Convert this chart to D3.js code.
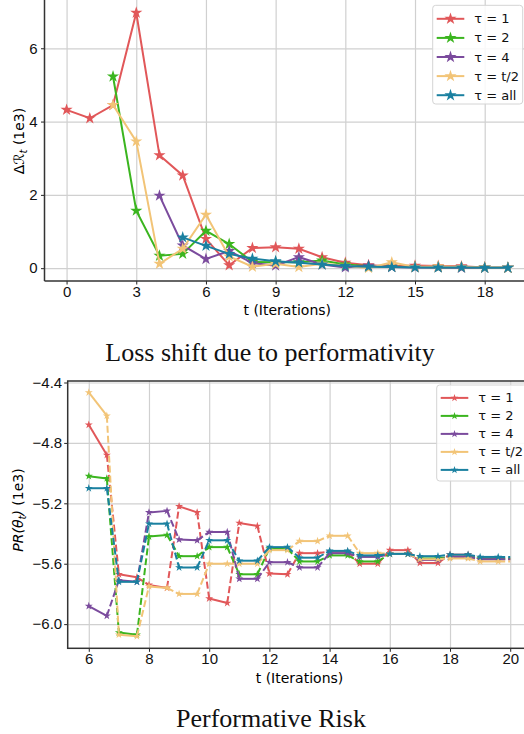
<!DOCTYPE html>
<html>
<head>
<meta charset="utf-8">
<script src="https://cdn.jsdelivr.net/npm/d3@7"></script>
<style>
  body { margin: 0; background: #fff; }
  svg { display: block; font-family: "DejaVu Sans", sans-serif; }
  .grid line { stroke: #d0d0d0; stroke-width: 1.2; }
  .grid path { display: none; }
  .axis text { font-size: 15px; fill: #111; }
  .axis line { stroke: #222; }
  .axis path { stroke: none; }
  .caption { font-family: "Liberation Serif", "Times New Roman", serif; font-size: 26px; fill: #111; }
</style>
</head>
<body>
<div id="chart"></div>
<script>
// series labels
var seriesNames = ["τ = 1", "τ = 2", "τ = 4", "τ = t/2", "τ = all"];
var colors = ["#e15759", "#3bb51f", "#7b4b9d", "#f2c477", "#1a80a0"];

// top chart: loss shift (1e3), each series starts at a given iteration
var shiftStart = [0, 2, 4, 2, 5];
var shiftTau1 = [4.32, 4.09, 4.45, 6.97, 3.08, 2.53, 0.80, 0.08, 0.55, 0.57, 0.53, 0.30, 0.15, 0.08, 0.05, 0.07, 0.06, 0.05, 0.02, 0.01];
var shiftTau2 = [5.23, 1.57, 0.34, 0.39, 1.02, 0.66, 0.17, 0.16, 0.16, 0.21, 0.10, 0.05, 0.04, 0.03, 0.02, 0.02, 0.01, 0.01];
var shiftTau4 = [1.98, 0.62, 0.25, 0.47, 0.14, 0.07, 0.30, 0.10, 0.02, 0.07, 0.03, 0.02, 0.02, 0.01, 0.01, 0.01];
var shiftTauHalf = [4.45, 3.46, 0.12, 0.53, 1.46, 0.32, 0.04, 0.12, 0.03, 0.12, 0.07, 0.00, 0.16, 0.03, 0.05, 0.03, 0.02, 0.01];
var shiftTauAll = [0.84, 0.61, 0.39, 0.26, 0.19, 0.15, 0.10, 0.06, 0.04, 0.03, 0.02, 0.02, 0.02, 0.01, 0.01];
var shiftTicks = [0, 3, 6, 9, 12, 15, 18];
var shiftYTicks = [0, 2, 4, 6];

// bottom chart: performative risk (1e3) at t and t+0.6
var prT = [6, 7, 8, 9, 10, 11, 12, 13, 14, 15, 16, 17, 18, 19, 20];
var prTau1Start = [-4.68, -5.67, -5.74, -5.22, -5.83, -5.33, -5.665, -5.53, -5.52, -5.60, -5.51, -5.595, -5.54, -5.57, -5.57];
var prTau1End = [-4.88, -5.69, -5.76, -5.26, -5.86, -5.35, -5.67, -5.53, -5.52, -5.60, -5.51, -5.595, -5.54, -5.57];
var prTau2Start = [-5.02, -6.056, -5.42, -5.55, -5.49, -5.67, -5.50, -5.585, -5.545, -5.585, -5.535, -5.565, -5.555, -5.565, -5.565];
var prTau2End = [-5.035, -6.07, -5.41, -5.55, -5.49, -5.67, -5.50, -5.585, -5.545, -5.585, -5.535, -5.565, -5.555, -5.565];
var prTau4Start = [-5.88, -5.71, -5.26, -5.44, -5.39, -5.70, -5.59, -5.625, -5.53, -5.555, -5.535, -5.575, -5.555, -5.57, -5.57];
var prTau4End = [-5.945, -5.72, -5.25, -5.445, -5.39, -5.70, -5.59, -5.625, -5.53, -5.555, -5.535, -5.575, -5.555, -5.57];
var prTauHalfStart = [-4.466, -6.07, -5.75, -5.80, -5.60, -5.60, -5.51, -5.45, -5.415, -5.53, -5.535, -5.57, -5.565, -5.585, -5.585];
var prTauHalfEnd = [-4.62, -6.08, -5.76, -5.80, -5.60, -5.60, -5.51, -5.45, -5.415, -5.53, -5.535, -5.57, -5.565, -5.585];
var prTauAllStart = [-5.10, -5.72, -5.335, -5.625, -5.445, -5.58, -5.49, -5.56, -5.515, -5.545, -5.535, -5.55, -5.54, -5.555, -5.555];
var prTauAllEnd = [-5.10, -5.72, -5.335, -5.625, -5.445, -5.58, -5.49, -5.56, -5.515, -5.545, -5.535, -5.55, -5.54, -5.555];
var prTicks = [6, 8, 10, 12, 14, 16, 18, 20];
var prYTicks = [-6.0, -5.6, -5.2, -4.8, -4.4];

var svg = d3.select("#chart").append("svg")
    .attr("width", 524)
    .attr("height", 734);

var star = function(size) { return d3.symbol().type(d3.symbolStar).size(size); };
var fmt1 = function(d) { return d3.format(".1f")(d).replace("-", "\u2212"); };

// ---------- top chart ----------
var topBox = { left: 44.5, right: 530, top: -1.2, bottom: 281 };
var xTop = d3.scaleLinear().domain([-0.95, 19.95]).range([topBox.left, topBox.right]);
var yTop = d3.scaleLinear().domain([-0.35, 7.35]).range([topBox.bottom, topBox.top]);

svg.append("g").attr("class", "grid")
    .attr("transform", `translate(0, ${topBox.bottom})`)
    .call(d3.axisBottom(xTop).tickValues(shiftTicks).tickSize(-(topBox.bottom - topBox.top)).tickFormat(""));
svg.append("g").attr("class", "grid")
    .attr("transform", `translate(${topBox.left}, 0)`)
    .call(d3.axisLeft(yTop).tickValues(shiftYTicks).tickSize(-(topBox.right - topBox.left)).tickFormat(""));

var shiftSeries = [shiftTau1, shiftTau2, shiftTau4, shiftTauHalf, shiftTauAll];
var topLine = d3.line().x(d => xTop(d[0])).y(d => yTop(d[1]));

shiftSeries.forEach(function(vals, i) {
    var pts = vals.map((v, k) => [shiftStart[i] + k, v]);
    svg.append("path")
        .attr("d", topLine(pts))
        .attr("fill", "none")
        .attr("stroke", colors[i])
        .attr("stroke-width", 2);
    svg.append("g").selectAll("path")
        .data(pts)
        .enter()
        .append("path")
        .attr("d", star(46))
        .attr("transform", d => `translate(${xTop(d[0])}, ${yTop(d[1])})`)
        .attr("fill", colors[i]);
});

svg.append("g").attr("class", "axis")
    .attr("transform", `translate(0, ${topBox.bottom})`)
    .call(d3.axisBottom(xTop).tickValues(shiftTicks).tickSize(3.5).tickPadding(2));
svg.append("g").attr("class", "axis")
    .attr("transform", `translate(${topBox.left}, 0)`)
    .call(d3.axisLeft(yTop).tickValues(shiftYTicks).tickSize(3.5).tickPadding(3.5));

svg.append("line").attr("x1", topBox.left).attr("x2", topBox.left).attr("y1", topBox.top).attr("y2", topBox.bottom)
    .attr("stroke", "#333").attr("stroke-width", 1.5);
svg.append("line").attr("x1", topBox.left).attr("x2", topBox.right).attr("y1", topBox.bottom).attr("y2", topBox.bottom)
    .attr("stroke", "#333").attr("stroke-width", 1.5);

svg.append("text")
    .attr("x", (topBox.left + topBox.right) / 2)
    .attr("y", 315)
    .attr("text-anchor", "middle")
    .attr("font-size", "14px")
    .text("t (Iterations)");

var yLab1 = svg.append("text")
    .attr("transform", "translate(24, 141) rotate(-90)")
    .attr("text-anchor", "middle")
    .attr("font-size", "14px");
yLab1.append("tspan").text("Δ");
yLab1.append("tspan").attr("font-style", "italic").text("ℛ");
yLab1.append("tspan").attr("font-style", "italic").attr("font-size", "10px").attr("dy", 3).text("t");
yLab1.append("tspan").attr("dy", -3).text(" (1e3)");

// legend
function legend(x, y, w, h, rowH, lineW, starSize, fontSize) {
    var g = svg.append("g").attr("transform", `translate(${x}, ${y})`);
    g.append("rect").attr("width", w).attr("height", h).attr("rx", 3)
        .attr("fill", "#fff").attr("fill-opacity", 0.85).attr("stroke", "#d4d4d4");
    seriesNames.forEach(function(name, i) {
        var cy = rowH * 0.55 + 3 + i * rowH;
        g.append("line").attr("x1", 4).attr("x2", 4 + lineW).attr("y1", cy).attr("y2", cy)
            .attr("stroke", colors[i]).attr("stroke-width", 2);
        g.append("path").attr("d", star(starSize)).attr("transform", `translate(${4 + lineW / 2}, ${cy})`)
            .attr("fill", colors[i]);
        g.append("text").attr("x", lineW + 14).attr("y", cy).attr("dy", "0.35em")
            .attr("font-size", fontSize).attr("fill", "#111").text(name);
    });
}
legend(432.7, 5.3, 90, 98.7, 19.1, 27.6, 46, "13px");

svg.append("text").attr("class", "caption")
    .attr("x", 270).attr("y", 360.5)
    .attr("text-anchor", "middle")
    .text("Loss shift due to performativity");

// ---------- bottom chart ----------
var botBox = { left: 67.7, right: 531.3, top: 381, bottom: 648.3 };
var xBot = d3.scaleLinear().domain([5.3, 20.7]).range([botBox.left, botBox.right]);
var yBot = d3.scaleLinear().domain([-6.16, -4.39]).range([botBox.bottom, botBox.top]);

svg.append("g").attr("class", "grid")
    .attr("transform", `translate(0, ${botBox.bottom})`)
    .call(d3.axisBottom(xBot).tickValues(prTicks).tickSize(-(botBox.bottom - botBox.top)).tickFormat(""));
svg.append("g").attr("class", "grid")
    .attr("transform", `translate(${botBox.left}, 0)`)
    .call(d3.axisLeft(yBot).tickValues(prYTicks).tickSize(-(botBox.right - botBox.left)).tickFormat(""));

var prStarts = [prTau1Start, prTau2Start, prTau4Start, prTauHalfStart, prTauAllStart];
var prEnds = [prTau1End, prTau2End, prTau4End, prTauHalfEnd, prTauAllEnd];
var botLine = d3.line().x(d => xBot(d[0])).y(d => yBot(d[1]));

prStarts.forEach(function(starts, i) {
    var ends = prEnds[i];
    var g = svg.append("g");
    ends.forEach(function(e, k) {
        var t = prT[k];
        var solid = [[t, starts[k]], [t + 0.6, e]];
        g.append("path").attr("d", botLine(solid))
            .attr("fill", "none").attr("stroke", colors[i]).attr("stroke-width", 2);
        g.append("path").attr("d", botLine([[t + 0.6, e], [prT[k + 1], starts[k + 1]]]))
            .attr("fill", "none").attr("stroke", colors[i]).attr("stroke-width", 2)
            .attr("stroke-dasharray", "7,3");
        g.selectAll(null).data(solid).enter().append("path")
            .attr("d", star(20))
            .attr("transform", d => `translate(${xBot(d[0])}, ${yBot(d[1])})`)
            .attr("fill", colors[i]);
    });
});

svg.append("g").attr("class", "axis")
    .attr("transform", `translate(0, ${botBox.bottom})`)
    .call(d3.axisBottom(xBot).tickValues(prTicks).tickSize(3.5).tickPadding(2));
svg.append("g").attr("class", "axis")
    .attr("transform", `translate(${botBox.left}, 0)`)
    .call(d3.axisLeft(yBot).tickValues(prYTicks).tickFormat(fmt1).tickSize(3.5).tickPadding(2));

svg.append("rect")
    .attr("x", botBox.left).attr("y", botBox.top)
    .attr("width", botBox.right - botBox.left).attr("height", botBox.bottom - botBox.top)
    .attr("fill", "none").attr("stroke", "#333").attr("stroke-width", 1.5);

svg.append("text")
    .attr("x", (botBox.left + botBox.right) / 2)
    .attr("y", 683)
    .attr("text-anchor", "middle")
    .attr("font-size", "14px")
    .text("t (Iterations)");

var yLab2 = svg.append("text")
    .attr("transform", "translate(23, 510) rotate(-90)")
    .attr("text-anchor", "middle")
    .attr("font-size", "14px");
yLab2.append("tspan").attr("font-style", "italic").text("PR(θ");
yLab2.append("tspan").attr("font-style", "italic").attr("font-size", "10px").attr("dy", 3).text("t");
yLab2.append("tspan").attr("dy", -3).attr("font-style", "italic").text(")");
yLab2.append("tspan").text(" (1e3)");

legend(436.7, 385, 90, 96, 18, 27.6, 18, "13px");

svg.append("text").attr("class", "caption")
    .attr("x", 271).attr("y", 726.5)
    .attr("text-anchor", "middle")
    .text("Performative Risk");
</script>
</body>
</html>
